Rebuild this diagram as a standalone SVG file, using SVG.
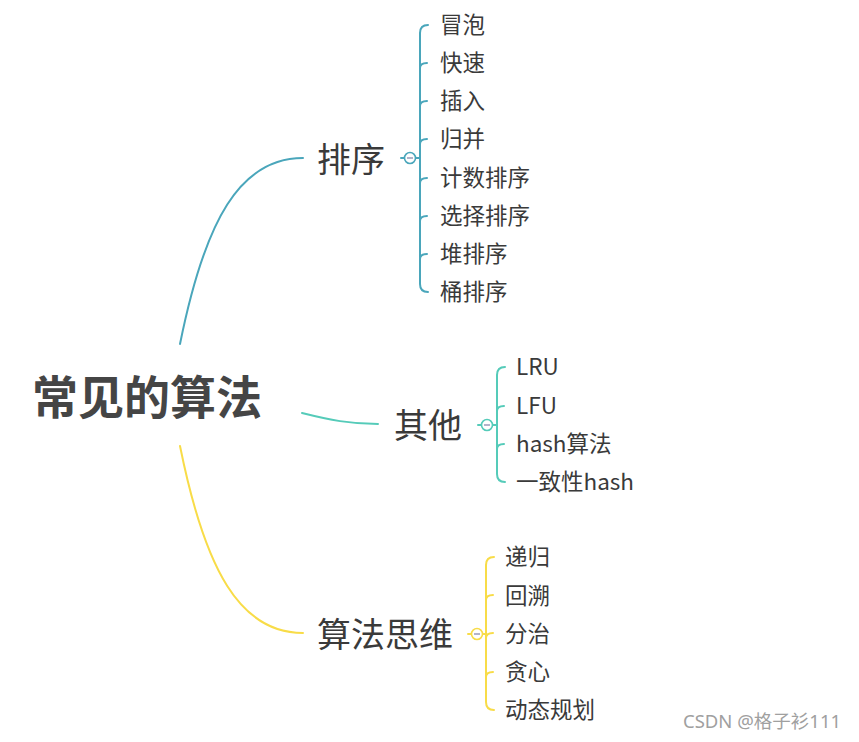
<svg xmlns="http://www.w3.org/2000/svg" width="859" height="742" viewBox="0 0 859 742">
<style>
text{font-family:"Noto Sans CJK SC","Noto Sans",sans-serif;fill:#3a3a3a}
.root{font-size:46px;font-weight:bold;fill:#454545}
.l1{font-size:34px}
.l2{font-size:22.5px}
.c{fill:none;stroke-width:2;stroke-linecap:round}
.teal{stroke:#4aa6bb}
.aqua{stroke:#55cbb9}
.yel{stroke:#f8dc48}
.tog{fill:#fff;stroke-width:1.6}
.minus{stroke:#9a9ab8;stroke-width:1.5}
.wm{font-family:"Noto Sans","Noto Sans CJK SC",sans-serif;font-size:18.5px;fill:#a0a0a0}
</style>
<rect width="859" height="742" fill="#fff"/>
<g id="connectors">
<path class="c teal" d="M180 344 C205 220 240 158 303 158"/>
<path class="c aqua" d="M302 413 C330 420 350 424 378 424"/>
<path class="c yel" d="M180 446 C205 570 240 633 303 633"/>
<!-- sort bracket -->
<path class="c teal" d="M401 158 L420 158"/>
<path class="c teal" d="M428 25 Q420 25 420 33 L420 284 Q420 292 428 292"/>
<path class="c teal" d="M420 68 Q420 63 427 63 M420 106 Q420 101 427 101 M420 144 Q420 139 427 139 M420 183 Q420 178 427 178 M420 221 Q420 216 427 216 M420 259 Q420 254 427 254"/>
<!-- other bracket -->
<path class="c aqua" d="M478 425 L497 425"/>
<path class="c aqua" d="M505 367 Q497 367 497 375 L497 474 Q497 482 505 482"/>
<path class="c aqua" d="M497 411 Q497 406 504 406 M497 449 Q497 444 504 444"/>
<!-- thinking bracket -->
<path class="c yel" d="M468 634 L486 634"/>
<path class="c yel" d="M494 557 Q486 557 486 565 L486 702 Q486 710 494 710"/>
<path class="c yel" d="M486 600 Q486 595 493 595 M486 638 Q486 633 493 633 M486 677 Q486 672 493 672"/>
</g>
<g id="root"><text class="root" x="32" y="414">常见的算法</text></g>
<g id="sort">
<text class="l1" x="317" y="172">排序</text>
<circle class="tog teal" cx="410" cy="158" r="5.5"/><line class="minus" x1="407" y1="158" x2="413" y2="158"/>
</g>
<g id="sort-children">
<text class="l2" x="440" y="33">冒泡</text>
<text class="l2" x="440" y="71">快速</text>
<text class="l2" x="440" y="109">插入</text>
<text class="l2" x="440" y="147">归并</text>
<text class="l2" x="440" y="186">计数排序</text>
<text class="l2" x="440" y="224">选择排序</text>
<text class="l2" x="440" y="262">堆排序</text>
<text class="l2" x="440" y="300">桶排序</text>
</g>
<g id="other">
<text class="l1" x="394" y="438">其他</text>
<circle class="tog aqua" cx="487" cy="425" r="5.5"/><line class="minus" x1="484" y1="425" x2="490" y2="425"/>
</g>
<g id="other-children">
<text class="l2" x="516" y="375">LRU</text>
<text class="l2" x="516" y="414">LFU</text>
<text class="l2" x="516" y="452">hash算法</text>
<text class="l2" x="516" y="490">一致性hash</text>
</g>
<g id="thinking">
<text class="l1" x="317" y="647">算法思维</text>
<circle class="tog yel" cx="477" cy="634" r="5.5"/><line class="minus" x1="474" y1="634" x2="480" y2="634"/>
</g>
<g id="thinking-children">
<text class="l2" x="505" y="565">递归</text>
<text class="l2" x="505" y="604">回溯</text>
<text class="l2" x="505" y="642">分治</text>
<text class="l2" x="505" y="680">贪心</text>
<text class="l2" x="505" y="718">动态规划</text>
</g>
<text class="wm" x="683" y="728">CSDN @格子衫111</text>
</svg>
